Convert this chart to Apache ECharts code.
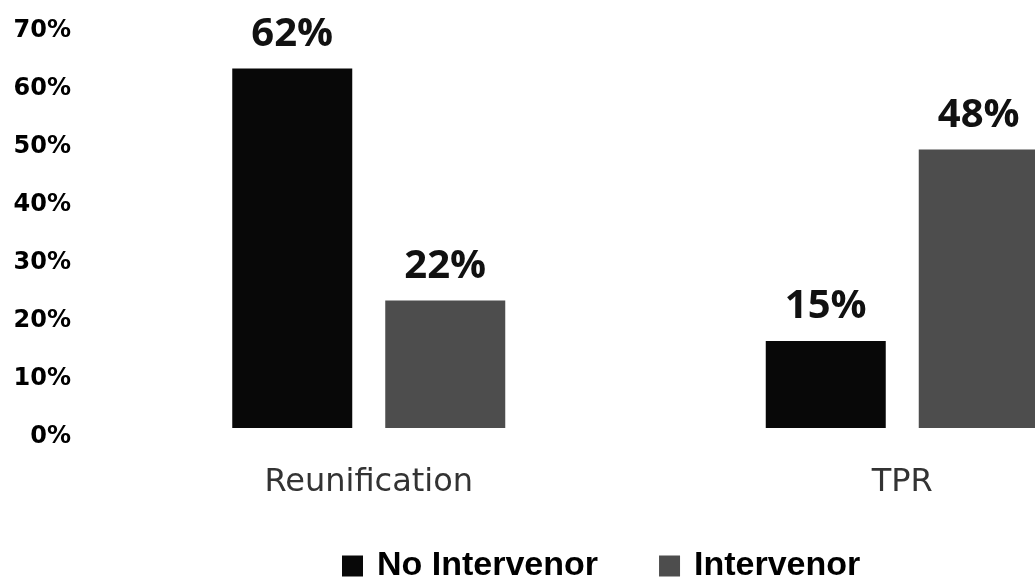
<!DOCTYPE html>
<html>
<head>
<meta charset="utf-8">
<style>
  html, body { margin: 0; padding: 0; background: #fff; }
  #chart { width: 1035px; height: 582px; }
</style>
<script src="https://cdn.jsdelivr.net/npm/echarts@6/dist/echarts.min.js"></script>
</head>
<body>
<div id="chart"></div>
<script>
// Outcome categories
const categories = ['Reunification', 'TPR'];
// Percentage of cases per outcome
const noIntervenor = [62, 15];
const intervenor = [22, 48];
// Legend names
const seriesNames = ['No Intervenor', 'Intervenor'];

const chart = echarts.init(document.getElementById('chart'));

const valueLabel = {
  show: true,
  position: 'top',
  distance: 14,
  formatter: '{c}%',
  fontFamily: 'Open Sans',
  fontWeight: 'bold',
  fontSize: 40,
  lineHeight: 40,
  color: '#111'
};

chart.setOption({
  animation: false,
  backgroundColor: '#ffffff',
  // plot area runs past the right edge of the canvas
  grid: {
    left: 102, width: 1067, top: 22, height: 406,
    containLabel: false,
    outerBoundsMode: 'none'
  },
  legend: {
    data: seriesNames,
    left: 337,
    top: 544,
    icon: 'rect',
    itemWidth: 21,
    itemHeight: 21,
    itemGap: 61,
    textStyle: {
      fontFamily: 'Liberation Sans',
      fontWeight: 'bold',
      fontSize: 34,
      lineHeight: 34,
      color: '#000',
      padding: [0, 0, 0, 9]
    }
  },
  xAxis: {
    type: 'category',
    data: categories,
    axisLine: { show: false },
    axisTick: { show: false },
    axisLabel: {
      margin: 39,
      fontFamily: 'DejaVu Sans',
      fontSize: 32,
      lineHeight: 32,
      color: '#333'
    }
  },
  yAxis: {
    type: 'value',
    min: 0,
    max: 70,
    interval: 10,
    axisLine: { show: false },
    axisTick: { show: false },
    splitLine: { show: false },
    axisLabel: {
      formatter: '{value}%',
      margin: 31,
      fontFamily: 'DejaVu Sans',
      fontWeight: 'bold',
      fontSize: 24,
      lineHeight: 18,
      verticalAlign: 'top',
      color: '#000'
    }
  },
  series: [
    {
      name: seriesNames[0],
      type: 'bar',
      data: noIntervenor,
      barWidth: 120,
      barGap: '27.5%',
      itemStyle: { color: '#080808' },
      label: valueLabel
    },
    {
      name: seriesNames[1],
      type: 'bar',
      data: intervenor,
      barWidth: 120,
      itemStyle: { color: '#4d4d4d' },
      label: valueLabel
    }
  ]
});
</script>
</body>
</html>
